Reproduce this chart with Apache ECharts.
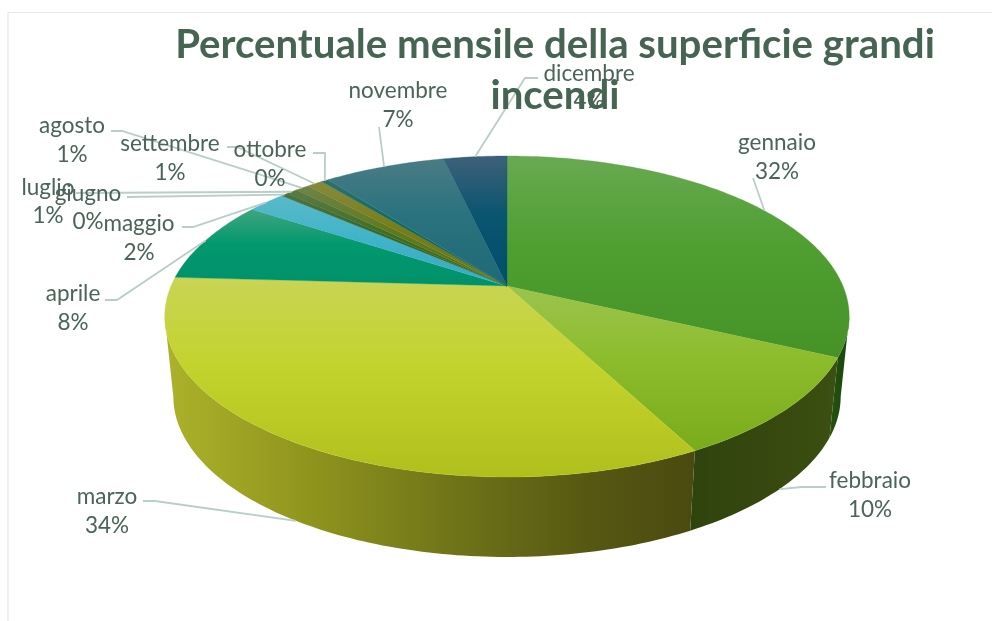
<!DOCTYPE html>
<html>
<head>
<meta charset="utf-8">
<style>html,body{margin:0;padding:0;background:#fff}#c{width:992px;height:621px}</style>
<script src="https://cdn.jsdelivr.net/npm/echarts@6/dist/echarts.min.js"></script>
</head>
<body>
<div id="c"></div>
<script>
var titleText = 'Percentuale mensile della superficie grandi\nincendi';
var months = ['gennaio','febbraio','marzo','aprile','maggio','giugno','luglio','agosto','settembre','ottobre','novembre','dicembre'];
var shares = [32, 10.3, 33.6, 8.3, 2.2, 0.4, 0.6, 0.8, 0.9, 0.4, 6.9, 3.6];

// styling: top face gradient stops (far, middle, near) per month
var topColors = [
  ['#68a952','#4f9f30','#469228'],
  ['#9cc44f','#8cbc2c','#7aab1a'],
  ['#c9d455','#c3d32d','#b1bf1c'],
  ['#3fa67e','#03986f','#01916a'],
  ['#5ab9c9','#42b4ca','#36aac0'],
  ['#4f7347','#34682b','#2d6022'],
  ['#5c7a45','#3f6e24','#3a661c'],
  ['#6f8348','#5f7a1e','#566f16'],
  ['#88893f','#787e16','#6f7410'],
  ['#2f706c','#0f6a5f','#0a5f55'],
  ['#4a7c85','#2a727e','#1e6a76'],
  ['#3f6079','#0a5571','#014f6b']
];
var wallStops = {
  0: [[0,'#24520f'],[1,'#1c440c']],
  1: [[0,'#2f440d'],[0.6,'#38490f'],[1,'#3b5012']],
  2: [[0,'#adb22b'],[0.25,'#92971e'],[0.55,'#6f7318'],[0.8,'#565812'],[1,'#4a4a10']]
};
// label placement: centre x, first line y, and elbow points of the leader line
var labelLayout = [
  {x:777,y:143,elbow:[[753,178]]},
  {x:870,y:481,elbow:[[826,487],[802,487]]},
  {x:107,y:497,elbow:[[143,501],[155,501]]},
  {x:73,y:294,elbow:[[105,300],[117,300]]},
  {x:139,y:224,elbow:[[182,227],[193,227]]},
  {x:88,y:194,y2:222,elbow:[[127,197]]},
  {x:48,y:188,y2:216,elbow:[[76,193]]},
  {x:72,y:126,elbow:[[111,131],[122,131]]},
  {x:170,y:144,elbow:[[227,147],[237,147]]},
  {x:270,y:150,elbow:[[313,153],[325,153]]},
  {x:398,y:91,elbow:[[379,127]]},
  {x:589,y:74,y2:101,elbow:[[538,78],[525,78]]}
];

// pie projection (perspective disc)
var cx = 507, cy = 286, R = 336, S = 154.7, K = 0.19, DEPTH = 80, SHRINK = 0.975;
var WALL_FROM = 101, WALL_TO = 259;
function rim(deg, lower) {
  var t = deg * Math.PI / 180, u = Math.sin(t), v = Math.cos(t), w = 1 + K * v;
  var dx = R * u / w, dy = -S * v / w;
  return lower ? [cx + dx * SHRINK, cy + dy + DEPTH] : [cx + dx, cy + dy];
}
function arc(a, b, lower) {
  var pts = [], n = Math.max(2, Math.ceil(Math.abs(b - a)));
  for (var i = 0; i <= n; i++) pts.push(rim(a + (b - a) * i / n, lower));
  return pts;
}
var total = shares.reduce(function (s, v) { return s + v; }, 0);
var starts = [], acc = 0;
shares.forEach(function (v) { starts.push(acc / total * 360); acc += v; });

function renderSlice(params, api) {
  var i = params.dataIndex, val = api.value(0);
  var a = starts[i], b = a + val / total * 360, mid = (a + b) / 2;
  var kids = [];
  var tc = topColors[i];
  var fill = {type:'linear',x:0,y:0,x2:0,y2:1,colorStops:[
    {offset:0,color:tc[0]},{offset:0.45,color:tc[1]},{offset:1,color:tc[2]}]};
  kids.push({type:'polygon',z2:3,shape:{points:[[cx,cy]].concat(arc(a,b,false))},
    style:{fill:fill,stroke:tc[1],lineWidth:0.3}});
  var wa = Math.max(a, WALL_FROM), wb = Math.min(b, WALL_TO);
  if (wb > wa && wallStops[i]) {
    kids.push({type:'polygon',z2:1,
      shape:{points:arc(wa,wb,false).concat(arc(wb,wa,true))},
      style:{fill:{type:'linear',x:1,y:0,x2:0,y2:0,colorStops:wallStops[i].map(function(s){return {offset:1-s[0],color:s[1]};}).reverse()},lineWidth:0}});
  }
  var lay = labelLayout[i];
  var front = mid > WALL_FROM && mid < WALL_TO;
  var anchor = rim(mid, front);
  kids.push({type:'polyline',z2:5,silent:true,shape:{points:lay.elbow.concat([anchor])},
    style:{fill:null,stroke:'#b9cec8',lineWidth:1.8}});
  var font = '22.5px Lato, sans-serif';
  kids.push({type:'text',z2:6,style:{x:lay.x,y:lay.y,text:months[i],font:font,fill:'#4a6558',align:'center',verticalAlign:'middle'}});
  kids.push({type:'text',z2:6,style:{x:lay.x,y:lay.y2||lay.y+29,text:Math.round(val)+'%',font:font,fill:'#4a6558',align:'center',verticalAlign:'middle'}});
  return {type:'group',children:kids};
}

var chart = echarts.init(document.getElementById('c'), null, {renderer:'canvas'});
chart.setOption({
  animation:false,
  backgroundColor:'#ffffff',
  title:{
    text:titleText,left:550,top:15,textAlign:'center',z:10,
    textStyle:{fontFamily:'Lato, sans-serif',fontWeight:'bold',fontSize:40.2,lineHeight:51,color:'#456552'}
  },
  graphic:[
    {type:'line',shape:{x1:8,y1:12.5,x2:992,y2:12.5},style:{stroke:'#e2e9e7',lineWidth:1.2},silent:true},
    {type:'line',shape:{x1:8,y1:12.5,x2:8,y2:621},style:{stroke:'#e2e9e7',lineWidth:1.2},silent:true}
  ],
  series:[{
    type:'custom',coordinateSystem:'none',renderItem:renderSlice,
    data:shares.map(function(v,i){return {name:months[i],value:[v]};}),
    silent:true
  }]
});
</script>
</body>
</html>
